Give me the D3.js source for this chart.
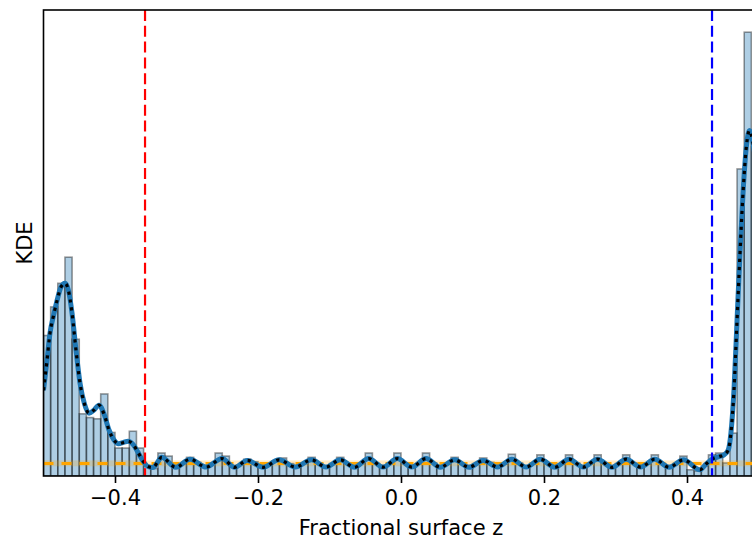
<!DOCTYPE html>
<html>
<head>
<meta charset="utf-8">
<script src="https://cdn.jsdelivr.net/npm/d3@7"></script>
<style>
  html, body { margin: 0; padding: 0; background: #fff; overflow: hidden; }
  svg { display: block; font-family: "DejaVu Sans", sans-serif; }
</style>
</head>
<body>
<svg id="chart" width="752" height="545"></svg>
<script>
// Histogram of fractional surface z: 100 equal bins over this range (density)
const binRange = [-0.5, 0.5];
const histDensity = [
  11.3, 13.6, 15.5, 17.6, 11.0, 5.0, 4.7, 4.6, 6.6, 3.5,
  2.25, 2.25, 3.6, 2.25, 0.8, 0.6, 1.85, 1.6, 0.8, 1.0,
  1.5, 1.1, 0.75, 1.0, 1.85, 1.6, 0.8, 0.9, 1.35, 1.15,
  0.75, 0.95, 1.2, 1.45, 1.0, 0.8, 1.0, 1.5, 1.0, 0.75,
  1.0, 1.5, 1.05, 0.8, 1.0, 1.85, 1.0, 0.85, 1.0, 1.85,
  1.0, 0.75, 1.0, 1.85, 1.05, 0.8, 0.95, 1.5, 1.05, 0.85,
  1.0, 1.45, 1.1, 0.8, 0.95, 1.75, 1.05, 0.8, 1.0, 1.7,
  1.0, 0.85, 0.95, 1.7, 1.05, 0.8, 1.0, 1.7, 1.0, 0.8,
  1.0, 1.7, 1.05, 0.8, 0.95, 1.7, 1.0, 0.85, 1.0, 1.6,
  0.5, 0.4, 0.8, 1.7, 1.85, 1.05, 3.45, 24.7, 35.7, 26.5
];

// Kernel density estimate, sampled positions and values
const kdeZ = [
  -0.5, -0.4951, -0.4909, -0.4860, -0.4811, -0.4755, -0.4699, -0.4650, -0.4601, -0.4545,
  -0.4490, -0.4427, -0.4364, -0.4294, -0.4224, -0.4154, -0.4084, -0.4014, -0.3951, -0.3881,
  -0.3818, -0.3748, -0.3678, -0.3608, -0.3538, -0.3469, -0.3406, -0.3350,
  -0.3150, -0.2950, -0.2727, -0.2503, -0.2327, -0.2150, -0.1928, -0.1706, -0.1478, -0.1250,
  -0.1050, -0.0850, -0.0651, -0.0452, -0.0251, -0.0050, 0.0150, 0.0350, 0.0550, 0.0750,
  0.0950, 0.1150, 0.1350, 0.1550, 0.1750, 0.1950, 0.2150, 0.2350, 0.2550, 0.2750,
  0.2950, 0.3150, 0.3350, 0.3550, 0.3750, 0.3950,
  0.4182, 0.4266, 0.4364, 0.4448, 0.4517, 0.4577, 0.4615, 0.4657, 0.4699, 0.4741,
  0.4787, 0.4832, 0.4874, 0.4916, 0.4958, 0.5
];
const kdeDensity = [
  6.9, 9.3, 11.5, 12.9, 14.1, 15.2, 15.5, 14.9, 13.1, 10.1,
  7.5, 5.8, 5.05, 5.3, 5.7, 5.0, 3.7, 2.9, 2.6, 2.7,
  2.8, 2.55, 1.9, 1.2, 0.76, 0.68, 1.1, 1.5,
  0.7, 1.35, 0.72, 1.4, 0.7, 1.25, 0.7, 1.3, 0.72, 1.3,
  0.72, 1.3, 0.7, 1.4, 0.72, 1.4, 0.72, 1.4, 0.7, 1.3,
  0.7, 1.25, 0.72, 1.35, 0.72, 1.35, 0.7, 1.35, 0.72, 1.35,
  0.7, 1.35, 0.72, 1.35, 0.7, 1.3,
  0.5, 0.96, 1.4, 1.56, 1.7, 2.1, 3.5, 6.9, 12.4, 17.9,
  23.1, 26.6, 27.8, 27.0, 25.5, 23.9
];

// Uniform reference level with its band, and the two surface boundaries
const uniformLevel = 1.0;
const uniformBand = [0.78, 1.25];
const lowerSurface = -0.358;
const upperSurface = 0.435;

const xTicks = [-0.4, -0.2, 0.0, 0.2, 0.4];
const xLabel = "Fractional surface z";
const yLabel = "KDE";

// ---- layout ----
const plot = { left: 43.5, right: 758.5, top: 10, bottom: 476 };
const svg = d3.select("#chart");

const x = d3.scaleLinear().domain(binRange).range([plot.left, plot.right]);
const yMax = d3.max(histDensity) * 1.05;
const y = d3.scaleLinear().domain([0, yMax]).range([plot.bottom, plot.top]);

svg.append("defs").append("clipPath").attr("id", "plotClip")
  .append("rect")
  .attr("x", plot.left).attr("y", plot.top)
  .attr("width", plot.right - plot.left).attr("height", plot.bottom - plot.top);

const g = svg.append("g").attr("clip-path", "url(#plotClip)");

// histogram bars
const nBins = histDensity.length;
const binW = (binRange[1] - binRange[0]) / nBins;
const bins = histDensity.map((v, i) => ({
  x0: binRange[0] + i * binW,
  x1: binRange[0] + (i + 1) * binW,
  v
}));

g.append("g").selectAll("rect").data(bins).join("rect")
  .attr("x", d => x(d.x0))
  .attr("width", d => x(d.x1) - x(d.x0))
  .attr("y", d => y(d.v))
  .attr("height", d => y(0) - y(d.v))
  .attr("fill", "#1f77b4").attr("fill-opacity", 0.36)
  .attr("stroke", "#000").attr("stroke-opacity", 0.4)
  .attr("stroke-width", 1.6);

// uniform band and level
g.append("rect")
  .attr("x", plot.left).attr("width", plot.right - plot.left)
  .attr("y", y(uniformBand[1]))
  .attr("height", y(uniformBand[0]) - y(uniformBand[1]))
  .attr("fill", "orange").attr("fill-opacity", 0.22);

g.append("line")
  .attr("x1", plot.left).attr("x2", plot.right)
  .attr("y1", y(uniformLevel)).attr("y2", y(uniformLevel))
  .attr("stroke", "orange").attr("stroke-width", 3)
  .attr("stroke-dasharray", "10 8");

// KDE curve: solid blue with black dots on top
const kdePts = kdeZ.map((z, i) => [z, kdeDensity[i]]);
const kdeLine = d3.line()
  .x(d => x(d[0])).y(d => y(d[1]))
  .curve(d3.curveMonotoneX);

g.append("path").datum(kdePts)
  .attr("d", kdeLine)
  .attr("fill", "none").attr("stroke", "#1f77b4")
  .attr("stroke-width", 5).attr("stroke-linejoin", "round");

g.append("path").datum(kdePts)
  .attr("d", kdeLine)
  .attr("fill", "none").attr("stroke", "#000")
  .attr("stroke-width", 3.2).attr("stroke-dasharray", "3.2 4.8");

// surface boundaries
[[lowerSurface, "red"], [upperSurface, "blue"]].forEach(([z, c]) => {
  g.append("line")
    .attr("x1", x(z)).attr("x2", x(z))
    .attr("y1", plot.top).attr("y2", plot.bottom)
    .attr("stroke", c).attr("stroke-width", 2.2)
    .attr("stroke-dasharray", "11 4.8");
});

// frame
svg.append("rect")
  .attr("x", plot.left).attr("y", plot.top)
  .attr("width", plot.right - plot.left).attr("height", plot.bottom - plot.top)
  .attr("fill", "none").attr("stroke", "#000").attr("stroke-width", 1.6);

// x axis
const fmt = d => d3.format(".1f")(d).replace("-", "\u2212");
const xAxis = svg.append("g")
  .attr("transform", `translate(0,${plot.bottom})`)
  .call(d3.axisBottom(x).tickValues(xTicks).tickFormat(fmt).tickSize(7).tickPadding(7));
xAxis.select(".domain").remove();
xAxis.selectAll(".tick line").attr("stroke", "#000").attr("stroke-width", 1.6);
xAxis.selectAll(".tick text")
  .attr("fill", "#000")
  .attr("font-family", "DejaVu Sans, sans-serif")
  .attr("font-size", 21);

svg.append("text")
  .attr("x", x(0))
  .attr("y", 535)
  .attr("text-anchor", "middle")
  .attr("font-size", 21)
  .attr("fill", "#000")
  .text(xLabel);

svg.append("text")
  .attr("transform", `translate(32,${(plot.top + plot.bottom) / 2}) rotate(-90)`)
  .attr("text-anchor", "middle")
  .attr("font-size", 21)
  .attr("fill", "#000")
  .text(yLabel);
</script>
</body>
</html>
